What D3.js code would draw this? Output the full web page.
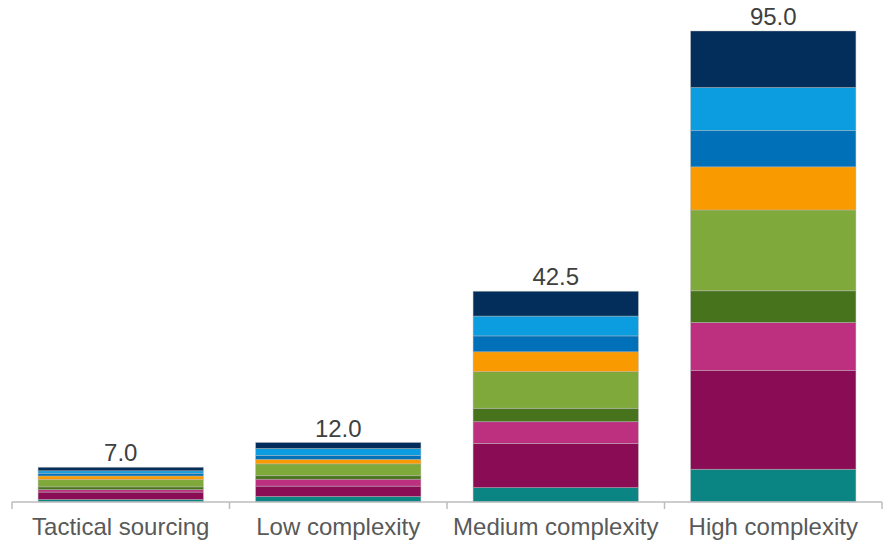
<!DOCTYPE html>
<html>
<head>
<meta charset="utf-8">
<script src="https://cdn.jsdelivr.net/npm/d3@7"></script>
<style>
  html, body { margin: 0; padding: 0; background: #fff; }
  svg { display: block; font-family: "Liberation Sans", Arial, sans-serif; }
</style>
</head>
<body>
<svg id="chart" width="884" height="541"></svg>
<script>
// Categories along the x axis
const categories = ["Tactical sourcing", "Low complexity", "Medium complexity", "High complexity"];

// Stack components, bottom to top
const seriesKeys = ["s1", "s2", "s3", "s4", "s5", "s6", "s7", "s8", "s9"];
const seriesColors = ["#0b8584", "#8a0c55", "#bd3080", "#46731b", "#80a93c", "#f99a00", "#0070b8", "#0b9ddf", "#032d5a"];

// Values per component, one entry per category
const s1 = [0.5, 1.1, 2.9, 6.6];
const s2 = [1.5, 2.1, 8.9, 19.9];
const s3 = [0.5, 1.4, 4.4, 9.7];
const s4 = [0.55, 0.7, 2.7, 6.4];
const s5 = [1.5, 2.4, 7.4, 16.3];
const s6 = [0.7, 0.9, 4.0, 8.7];
const s7 = [0.55, 0.8, 3.2, 7.3];
const s8 = [0.5, 1.4, 4.0, 8.7];
const s9 = [0.7, 1.2, 5.0, 11.4];

// Totals shown above each bar
const totals = [7.0, 12.0, 42.5, 95.0];

const seriesValues = [s1, s2, s3, s4, s5, s6, s7, s8, s9];
const rows = categories.map((c, i) => {
  const r = { category: c };
  seriesKeys.forEach((k, j) => { r[k] = seriesValues[j][i]; });
  return r;
});

const svg = d3.select("#chart");
const margin = { top: 31, bottom: 39, left: 12, right: 2 };
const W = 884, H = 541;

const x = d3.scaleBand()
  .domain(categories)
  .range([margin.left, W - margin.right])
  .paddingInner(0.24)
  .paddingOuter(0.12);

const y = d3.scaleLinear()
  .domain([0, 95])
  .range([H - margin.bottom, margin.top]);

const stack = d3.stack().keys(seriesKeys);
const layers = stack(rows);

const color = d3.scaleOrdinal().domain(seriesKeys).range(seriesColors);

// Stacked segments
svg.append("g")
  .selectAll("g")
  .data(layers)
  .join("g")
  .attr("fill", d => color(d.key))
  .selectAll("rect")
  .data(d => d)
  .join("rect")
  .attr("x", d => x(d.data.category))
  .attr("width", x.bandwidth())
  .attr("y", d => y(d[1]))
  .attr("height", d => y(d[0]) - y(d[1]))
  .attr("stroke", "#b8b8b8")
  .attr("stroke-opacity", 0.55)
  .attr("stroke-width", 0.8);

// Category axis: ticks sit on band boundaries
const axisY = y(0);
const step = x.step();
const outer = x.paddingOuter() * step;
const x0 = x(categories[0]) - outer;
const boundaries = d3.range(categories.length + 1).map(i => x0 + i * step);

const axis = svg.append("g");
axis.append("line")
  .attr("x1", boundaries[0]).attr("x2", boundaries[boundaries.length - 1])
  .attr("y1", axisY).attr("y2", axisY)
  .attr("stroke", "#bdbdbd").attr("stroke-width", 1.5);
axis.selectAll("line.tick")
  .data(boundaries)
  .join("line")
  .attr("class", "tick")
  .attr("x1", d => d).attr("x2", d => d)
  .attr("y1", axisY).attr("y2", axisY + 7)
  .attr("stroke", "#bdbdbd").attr("stroke-width", 1.5);

axis.selectAll("text")
  .data(categories)
  .join("text")
  .attr("x", d => x(d) + x.bandwidth() / 2)
  .attr("y", axisY + 33)
  .attr("text-anchor", "middle")
  .attr("font-size", 24)
  .attr("fill", "#595959")
  .text(d => d);

// Total labels above bars
svg.append("g")
  .selectAll("text")
  .data(categories)
  .join("text")
  .attr("x", d => x(d) + x.bandwidth() / 2)
  .attr("y", (d, i) => y(totals[i]) - 6)
  .attr("text-anchor", "middle")
  .attr("font-size", 24)
  .attr("fill", "#404040")
  .text((d, i) => totals[i].toFixed(1));
</script>
</body>
</html>
